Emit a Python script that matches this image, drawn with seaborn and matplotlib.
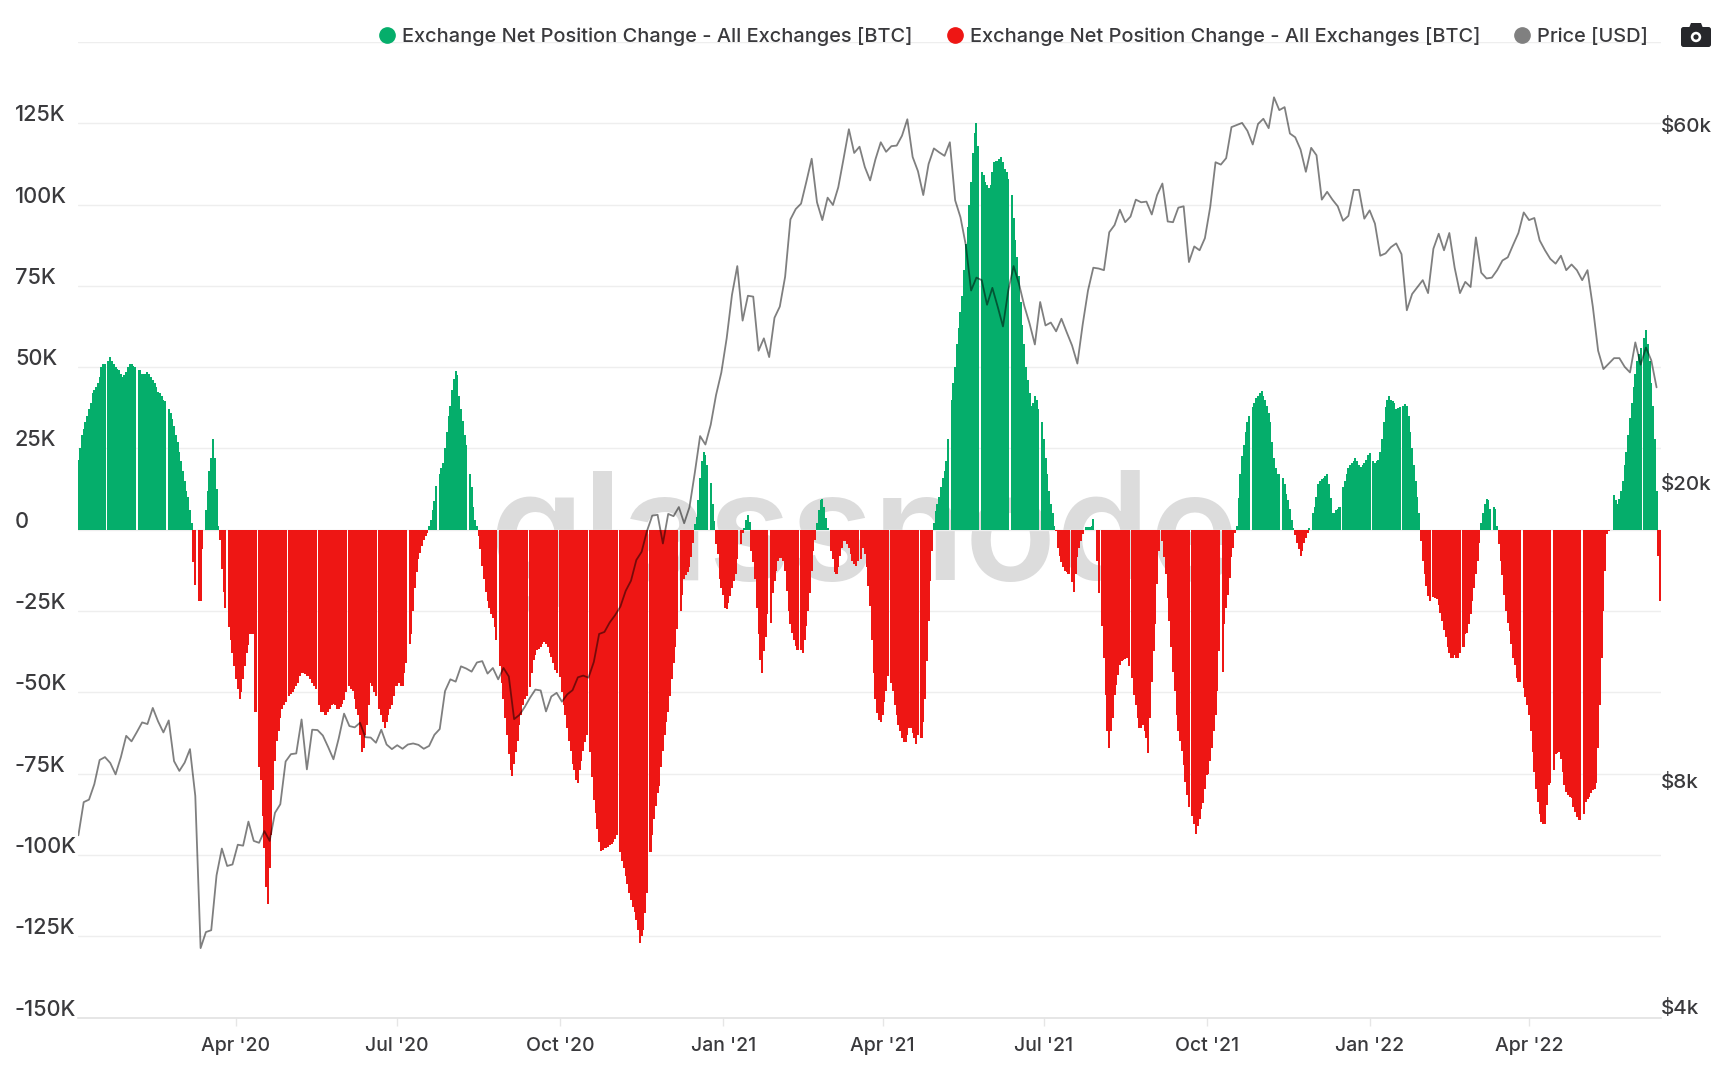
import numpy as np
import pandas as pd
import matplotlib
matplotlib.use('Agg')
import matplotlib.pyplot as plt
import matplotlib.dates as mdates
from matplotlib.lines import Line2D
from matplotlib.patches import Circle, FancyBboxPatch, Polygon
from matplotlib.transforms import ScaledTranslation
import seaborn as sns

start_date = '2020-01-03'

# daily net position change in thousands of BTC, 17 days per row
net_k = [
    21.6,25,29,31,33,35,37,39,42,43,44,45,47,50,51,51,52,
    52,53,52,51,50,49.5,49,48,47,47.5,48.5,50,51,51,50.5,50,49.5,
    49,49,48,48,48,48.5,48,47,46,45,44,42.5,42,41,40,39.5,39,
    37,36,34,32,29,27,24,21,18,15,12,10,6,2,-10,-17,-18,
    -22,-22,-6,0,6,12,18,22,28,22,12.5,1,-3,-12,-19,-24,-27,
    -30,-34,-38,-42,-46,-49,-52,-50,-46,-42,-38,-35.5,-32,-32,-32,-56,-60,
    -73,-77,-88,-98,-110,-115,-104,-94,-80,-71,-65,-62,-58,-55,-54,-53,-52,
    -51,-50.5,-50,-49,-48,-47,-45,-44,-44,-44.5,-45,-45,-46,-47,-48,-49,-50.5,
    -54,-56,-56,-57,-57,-56,-55,-54,-53.5,-54,-55,-55,-54.5,-53.5,-52.5,-50,-48,
    -48,-49,-49.5,-52,-55,-57,-63,-68.5,-67,-63,-60,-54,-47,-48,-50,-51,-53,
    -55,-57,-59,-61,-59,-57,-55,-54,-51,-48,-48,-47,-48,-48,-44,-41,-38,
    -35,-32,-25,-18,-13,-9,-7,-5,-3,-2,-1,1,3,6,8.7,13.5,15,
    17,19,20.5,25,30,35,38,43,46.5,48.7,47.6,41,37,33.5,29,26,22,
    17,13,7,3,1,-2,-6,-11,-15,-19,-22,-24,-26,-27,-30,-34,-37.7,
    -42,-47,-52,-58,-63,-69,-74,-75.6,-72,-68.5,-65,-60,-57,-54,-52,-51,-50,
    -48.5,-44,-40,-38.5,-37,-36.7,-36,-35,-34.4,-35,-36,-38,-39,-41,-43,-44,-45,
    -45.4,-50,-54,-57,-61,-65,-68,-72,-74,-77,-78,-74,-71,-68,-65.4,-63,-61,
    -68.5,-76,-83,-87,-92,-96,-98.7,-98.5,-98,-98,-97.7,-97,-96.5,-96,-95,-94,-95,
    -99,-102,-104,-106.5,-109,-111.6,-114,-116,-117.7,-120,-123,-127,-125,-123,-118,-111.6,-106,
    -99,-94,-89,-85,-81,-78.7,-73,-68,-63,-59,-56,-51,-46,-41,-36,-30.5,-28,
    -25,-20,-15,-14,-13,-11.6,-8.5,-4,1.7,4,9,16,21,24,23,20,18,
    14.5,8,2.8,-4.4,-7.5,-15,-18,-20,-24,-24.5,-22.5,-20.4,-17.8,-15.8,-13.7,-9,-6,
    -4.4,-1,0.5,3,4.5,2.5,-6.5,-10,-15,-24,-32,-40,-44,-37.4,-33,-26,-27,
    -28.6,-19.4,-15.8,-12.7,-9.6,-8.8,-8.8,-9.6,-12.7,-18.8,-25,-29,-31.7,-33.8,-35.8,-37,-37,
    -37,-38,-33.8,-29.7,-25,-19.4,-12.7,-6.5,-3,2,6,9,9.5,7,3.5,0.5,-1,
    -6.5,-9,-13,-13.7,-11.6,-8,-5.5,-3.6,-3.6,-4.4,-5.5,-7.5,-9.6,-10.6,-11,-9.6,-9,
    -9,-5.5,-7.5,-11.6,-17.3,-23.5,-34,-44,-52,-56.4,-58.5,-59,-57,-53,-49.7,-45,-46,
    -47,-49.7,-54,-57,-60,-62,-64,-65.4,-65.4,-63,-61,-61,-62.6,-64,-66,-63,-63,
    -64,-59,-52,-40.5,-28,-15.8,-6.5,2,5.8,8,10,13,16,18,21,28,35,
    40,45,50,57,62,67,72,80,88,93,100,107,116,122,125,118,114,
    110,109,107,106,105,106,110,113,113.5,113.5,114,114.5,113,111,110,108,106,
    103,96,89,84,78,70,63,57,50,46,42,38,39,41,40,37,36,
    33,28,22,17,12,8,5,1,-0.5,-5.5,-8,-10,-11.6,-12.7,-13,-13.7,-14,
    -16,-19,-13.7,-8.5,-5.5,-3.4,-1.3,0,0.7,0.7,0.7,1,3.3,0,-9.6,-19.4,-25,
    -29.7,-39.5,-50.8,-62,-67,-62,-58,-50.8,-47.7,-44.6,-41.5,-40.3,-40,-39.7,-39.5,-42,-44,
    -45.6,-50.8,-54,-58,-61,-61,-60,-62,-64,-68.8,-58,-46.7,-37.4,-29,-16.8,-6.5,-5,
    -3.4,-8.5,-13.7,-21,-28,-36,-43.6,-49.7,-57,-62,-65,-68,-72.4,-77.6,-81.7,-85.3,-87,
    -88,-90.4,-93.5,-91,-89,-86,-84,-79.6,-75.5,-75,-71,-67,-62,-57,-49.7,-37.4,-40,
    -43.6,-29,-24,-20,-14.7,-8.5,-5.5,-1,1,9.7,17,22.6,26,30,33,35,36,
    37.7,39,40.4,41,42,42.8,41,40,38,36,33,27,22,19,17,17,16.5,
    16,14,11,9,6.5,3,0.5,-1.5,-4,-6,-8,-6.5,-4,-2.5,-1,0.5,2,
    5,7,10,14,15,15.6,16,16.5,17,14,9.7,5,5,6,6.5,7,10,
    13,15,17,19,20,20.5,21,22,21,20,19.4,20,20.5,21.5,23,23.7,22,
    21,20.5,21,21.6,24,28,33,37.7,40,41,40,39.5,39,37,37.5,37.7,38,
    38,38.8,38,35,30,25,20,15,10,5,-3.4,-9.6,-13.7,-17.3,-20.4,-22,-22,
    -20.7,-21,-21.4,-23,-25.5,-28,-30.7,-33,-36,-38,-39.5,-39.5,-38.6,-39.5,-39.5,-38,-37,
    -36,-32,-31.7,-29,-26,-22,-17.8,-13.7,-9.6,-4,2,5,8,9.5,9,6.5,7,
    7,6.5,1,-4.4,-9.6,-14,-20,-25,-28.6,-31,-35,-39.5,-41.5,-45.6,-46.7,-46.7,-47,
    -48.7,-51.3,-54,-57,-62,-68.3,-74.5,-79.6,-83.7,-87.3,-90,-90.4,-90.4,-84.8,-78.6,-78,-76,
    -74,-69,-68.8,-68.3,-70.4,-74.5,-78.6,-80.6,-81.7,-82.2,-82.5,-85.3,-86.8,-88.4,-89.4,-89.4,-88,
    -87.3,-83.7,-82.7,-82.2,-81,-80,-79.6,-78,-67,-54,-39.5,-25,-12.7,-1.3,-0.3,0,9.7,
    10.8,9,8,9.5,12,15,20,24,29,34.5,39,44,48,52,54,56,57,
    59,61.4,57,52,45,38,28,12,-8,-22,
]

# price every third day, USD
price_usd = [
    7000,7750,7810,8190,8820,8900,8740,8440,8900,9500,9340,9610,9900,9850,10350,9930,
    9600,9960,8790,8530,8750,9120,7900,4950,5200,5230,6190,6720,6370,6400,6800,6780,
    7300,6880,6840,7090,6880,7500,7700,8780,8980,9000,9990,8570,9680,9670,9510,9180,
    8840,9430,10170,9790,9750,9890,9460,9450,9300,9680,9250,9120,9230,9130,9250,9280,
    9240,9130,9210,9530,9700,10900,11300,11220,11760,11680,11570,11900,11950,11500,11700,11300,
    11700,11400,10000,10130,10380,10680,10950,10920,10240,10720,10840,10550,10790,10930,11370,11430,
    11360,11920,12990,13070,13460,13760,14130,14830,15300,16300,16720,17820,18680,18730,17150,18780,
    18650,19180,18250,19170,21300,23850,23240,24700,27050,29000,32200,36800,40200,34000,36700,36600,
    31000,32200,30400,34300,35500,38900,46400,47900,48700,52100,55900,48900,46300,49600,48500,51200,
    55900,61200,56900,58000,54500,52300,55800,58800,57100,58100,58200,60000,63100,56200,53800,50000,
    55000,57700,57000,56400,58800,49200,46700,42900,37300,38800,38500,35700,37600,35500,33400,37300,
    40200,38100,35600,33700,31600,36000,33500,33800,32900,34200,32800,31500,29800,33600,37300,40000,
    39900,39700,44600,45600,47800,46000,46800,49300,48900,49000,47100,50000,51800,46100,46000,48100,
    48300,40700,42700,42200,43800,48200,55300,54900,56000,61600,62000,62400,60900,58400,62200,63200,
    61400,67500,64900,65500,60400,59700,57500,53700,57800,56500,49300,50500,49300,48300,46200,46900,
    50800,50800,46500,47700,45800,41500,41800,42600,43100,41700,35100,36900,37700,38500,37000,42400,
    44400,42200,44500,40000,37000,38300,37700,43900,39400,38700,38800,39700,40900,41300,42900,44500,
    47400,46300,46600,43500,42200,41100,40500,41500,39700,40400,39700,38500,39700,35500,31000,29300,
    29800,30300,30300,29500,29000,31800,29700,31300,30100,27700,
]

net_ticks = [-150,-125,-100,-75,-50,-25,0,25,50,75,100,125,150]
net_tick_labels = ['-150K','-125K','-100K','-75K','-50K','-25K','0','25K','50K','75K','100K','125K','']
price_ticks = [4000,8000,20000,60000]
price_tick_labels = ['$4k','$8k','$20k','$60k']
month_ticks = ['2020-04-01','2020-07-01','2020-10-01','2021-01-01','2021-04-01',
               '2021-07-01','2021-10-01','2022-01-01','2022-04-01']
month_labels = ["Apr '20","Jul '20","Oct '20","Jan '21","Apr '21",
                "Jul '21","Oct '21","Jan '22","Apr '22"]
legend_name = 'Exchange Net Position Change - All Exchanges [BTC]'

GREEN = '#05ae6b'
RED = '#ee1614'
TEXT = '#3a3a3d'

sns.set_theme(style='white')
plt.rcParams['font.family'] = ['Inter', 'DejaVu Sans']
plt.rcParams['font.weight'] = 500

net = pd.DataFrame({'date': pd.date_range(start_date, periods=len(net_k), freq='D'), 'net': net_k})
net['x'] = mdates.date2num(net['date'])
net['side'] = np.where(net['net'] >= 0, 'in', 'out')
net['net'] = net['net'] * 1000
# the chart leaves a thin blank column every 17th day
net = net[(np.arange(len(net)) % 17) != 16]

price = pd.DataFrame({'date': pd.date_range(start_date, periods=len(price_usd), freq='3D'), 'price': price_usd})
price['x'] = mdates.date2num(price['date'])

fig = plt.figure(figsize=(17.36, 10.8), dpi=100, facecolor='white')
ax = fig.add_axes([77.5/1736, 1-1017.5/1080, (1661-77.5)/1736, (1017.5-42)/1080])

ax.text(0.4965, 0.449, 'glassnode', transform=ax.transAxes, ha='center', va='baseline',
        fontsize=108, fontweight=600, color='#dcdcdc', zorder=0.5)

sns.barplot(data=net, x='x', y='net', hue='side', palette={'in': GREEN, 'out': RED},
            native_scale=True, dodge=False, width=1.15, gap=0, saturation=1, errorbar=None,
            legend=False, linewidth=0, ax=ax, zorder=2)

x0 = mdates.date2num(pd.Timestamp(start_date))
ax.set_xlim(x0-0.5, x0+893.5)
ax.set_ylim(-150000, 150000)
ax.set_xlabel('')
ax.set_ylabel('')
ax.set_axisbelow(True)
ax.yaxis.grid(True, color='#eeeeee', linewidth=1)
ax.xaxis.grid(False)
for s in ['top', 'left', 'right']:
    ax.spines[s].set_visible(False)
ax.spines['bottom'].set_color('#e2e2e2')
ax.spines['bottom'].set_linewidth(1.2)

ax.set_xticks(mdates.date2num(pd.to_datetime(month_ticks)))
ax.set_xticklabels(month_labels, fontsize=14, color=TEXT)
ax.tick_params(axis='x', length=6, width=1, color='#e6e6e6', pad=8, bottom=True)

ax.set_yticks([v*1000 for v in net_ticks])
ax.set_yticklabels(net_tick_labels, fontsize=15.6, color=TEXT)
ax.tick_params(axis='y', length=0, pad=45)
up = ScaledTranslation(0, 10/100, fig.dpi_scale_trans)
up_right = ScaledTranslation(0, 11/100, fig.dpi_scale_trans)
for lab in ax.get_yticklabels():
    lab.set_ha('left')
    lab.set_transform(lab.get_transform() + up)

ax2 = ax.twinx()
sns.lineplot(data=price, x='x', y='price', color='black', alpha=0.5, linewidth=1.3, ax=ax2)
ax2.set_yscale('log')
ax2.set_ylim(4000, 80000)
ax2.set_xlim(x0-0.5, x0+893.5)
ax2.set_xlabel('')
ax2.set_ylabel('')
ax2.grid(False)
for s in ax2.spines.values():
    s.set_visible(False)
ax2.minorticks_off()
ax2.set_yticks(price_ticks)
ax2.set_yticklabels(price_tick_labels, fontsize=14.8, color=TEXT)
ax2.tick_params(axis='y', length=0, pad=0, which='both')
for lab in ax2.get_yticklabels():
    lab.set_transform(lab.get_transform() + up_right)

handles = [Line2D([], [], marker='o', linestyle='', markersize=11, color=c)
           for c in [GREEN, RED, '#808080']]
leg = ax2.legend(handles, [legend_name, legend_name, 'Price [USD]'], ncols=3, frameon=False,
                 fontsize=14.4, loc='center right', bbox_to_anchor=(1648/1736, 1-36.5/1080),
                 bbox_transform=fig.transFigure, borderaxespad=0, borderpad=0,
                 handlelength=0.5, handletextpad=0.5, columnspacing=1.85, labelcolor=TEXT)

# camera icon, top right
cam = fig.add_axes([1681/1736, 1-47/1080, 30/1736, 24/1080])
cam.set_xlim(0, 30)
cam.set_ylim(0, 24)
cam.axis('off')
cam.add_patch(FancyBboxPatch((0, 0), 30, 20, boxstyle='round,pad=0,rounding_size=2.5', fc='#26272b', ec='none'))
cam.add_patch(Polygon([(8, 19), (10, 24), (20, 24), (22, 19)], fc='#26272b', ec='none'))
cam.add_patch(Circle((15, 10), 5.2, fc='white', ec='none'))
cam.add_patch(Circle((15, 10), 2.6, fc='#26272b', ec='none'))

fig.savefig('out.png', dpi=100)
